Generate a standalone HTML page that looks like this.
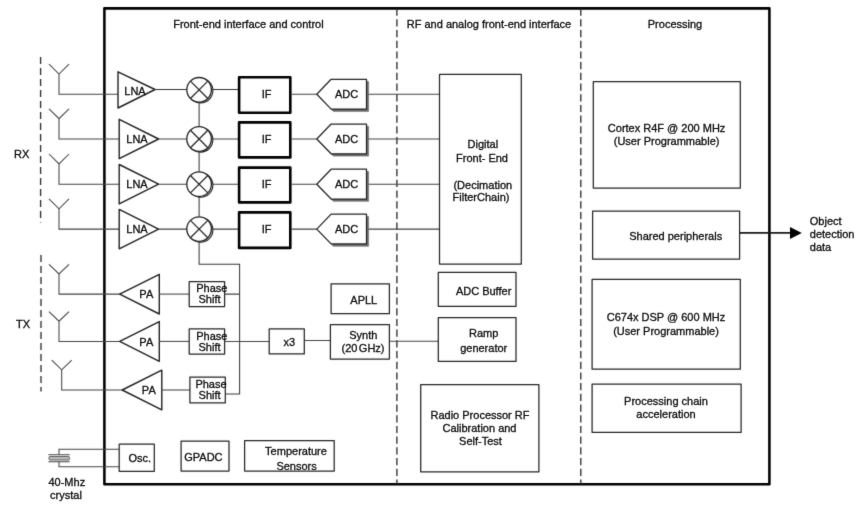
<!DOCTYPE html>
<html lang="en">
<head>
<meta charset="utf-8">
<title>Radar block diagram</title>
<style>
html,body{margin:0;padding:0;background:#fff;}
body{width:867px;height:506px;overflow:hidden;}
svg{display:block;}
text{font-family:"Liberation Sans",Arial,Helvetica,sans-serif;font-size:11px;fill:#111;stroke:#111;stroke-width:0.32px;}
.m{text-anchor:middle;}
.l{stroke:#444;stroke-width:1.05;fill:none;}
.b{stroke:#262626;stroke-width:1.25;fill:#fff;stroke-linejoin:round;}
.t{stroke-width:1.4;stroke:#222;}
.k{stroke:#000;stroke-width:2.6;fill:#fff;stroke-linejoin:round;}
.d{stroke:#303030;stroke-width:1.35;fill:none;stroke-dasharray:7.2 3.5;}
</style>
</head>
<body>
<svg width="867" height="506" viewBox="0 0 867 506">
<defs>
<filter id="soft" x="0" y="0" width="867" height="506" filterUnits="userSpaceOnUse" color-interpolation-filters="sRGB">
<feConvolveMatrix order="3" kernelMatrix="0.011 0.085 0.011 0.085 0.616 0.085 0.011 0.085 0.011" divisor="1" edgeMode="duplicate" preserveAlpha="false"/>
</filter>
<filter id="softt" x="0" y="0" width="867" height="506" filterUnits="userSpaceOnUse" color-interpolation-filters="sRGB">
<feConvolveMatrix order="3" kernelMatrix="0.006 0.07 0.006 0.07 0.696 0.07 0.006 0.07 0.006" divisor="1" edgeMode="duplicate" preserveAlpha="false"/>
</filter>
</defs>
<rect x="0" y="0" width="867" height="506" fill="#fff"/>

<g filter="url(#soft)">
<rect x="104.4" y="8.35" width="665" height="475.9" fill="none" stroke="#000" stroke-width="2.55" stroke-linejoin="round"/>
<line class="d" x1="396.9" y1="8.6" x2="396.9" y2="484"/>
<line class="d" x1="580.8" y1="8.6" x2="580.8" y2="484"/>
<line class="d" style="stroke-dasharray:7 4" x1="40.6" y1="57" x2="40.6" y2="222.5"/>
<line class="d" style="stroke-dasharray:7 4" x1="41" y1="255" x2="41" y2="391.5"/>
<path class="l" d="M49 64.1L59 74.0L69 64.1M59 74.0V94.3H119"/>
<path class="b t" d="M118 71.8L155 89.5L118 108Z"/>
<path class="l" style="stroke:#333;stroke-width:1.15" d="M155 89.5H187M212 89.5H239"/>
<circle cx="200.6" cy="90.6" r="12.3" fill="#fff" stroke="#222" stroke-width="1.1"/>
<circle cx="199.1" cy="89.8" r="12.3" fill="#fff" stroke="#222" stroke-width="1.3"/>
<path d="M190.40 81.10L207.80 98.50M207.80 81.10L190.40 98.50" fill="none" stroke="#262626" stroke-width="1.25"/>
<path class="l" d="M49 108.8L59 118.7L69 108.8M59 118.7V139.0H119"/>
<path class="b t" d="M119.2 119.3L158.6 139.0L119.2 158.7Z"/>
<path class="l" d="M158.6 139.0H187M212 139.0H239"/>
<circle cx="200.6" cy="139.8" r="12.3" fill="#fff" stroke="#222" stroke-width="1.1"/>
<circle cx="199.1" cy="139.0" r="12.3" fill="#fff" stroke="#222" stroke-width="1.3"/>
<path d="M190.40 130.30L207.80 147.70M207.80 130.30L190.40 147.70" fill="none" stroke="#262626" stroke-width="1.25"/>
<path class="l" d="M49 154.0L59 163.89999999999998L69 154.0M59 163.89999999999998V184.2H119"/>
<path class="b t" d="M119.2 164.5L158.6 184.2L119.2 203.89999999999998Z"/>
<path class="l" d="M158.6 184.2H187M212 184.2H239"/>
<circle cx="200.6" cy="185.0" r="12.3" fill="#fff" stroke="#222" stroke-width="1.1"/>
<circle cx="199.1" cy="184.2" r="12.3" fill="#fff" stroke="#222" stroke-width="1.3"/>
<path d="M190.40 175.50L207.80 192.90M207.80 175.50L190.40 192.90" fill="none" stroke="#262626" stroke-width="1.25"/>
<path class="l" d="M49 198.9L59 208.79999999999998L69 198.9M59 208.79999999999998V229.1H119"/>
<path class="b t" d="M119.2 209.4L158.6 229.1L119.2 248.79999999999998Z"/>
<path class="l" d="M158.6 229.1H187M212 229.1H239"/>
<circle cx="200.6" cy="229.9" r="12.3" fill="#fff" stroke="#222" stroke-width="1.1"/>
<circle cx="199.1" cy="229.1" r="12.3" fill="#fff" stroke="#222" stroke-width="1.3"/>
<path d="M190.40 220.40L207.80 237.80M207.80 220.40L190.40 237.80" fill="none" stroke="#262626" stroke-width="1.25"/>
<rect class="k" x="239.1" y="77.3" width="51.2" height="35.5"/>
<path class="l" d="M291.5 94.3H317M367 94.3H439.5"/>
<path d="M319 96.6L333.3 81.6H368.6V111.39999999999999H333.3Z" fill="#6e6e6e" stroke="#6e6e6e" stroke-width="0.6"/>
<path class="b" d="M316.8 94.3L331.1 79.3H366.5V109.1H331.1Z"/>
<rect class="k" x="239.1" y="122.4" width="51.2" height="35.0"/>
<path class="l" d="M291.5 139.0H317M367 139.0H439.5"/>
<path d="M319 141.3L333.3 126.3H368.6V156.10000000000002H333.3Z" fill="#6e6e6e" stroke="#6e6e6e" stroke-width="0.6"/>
<path class="b" d="M316.8 139.0L331.1 124.0H366.5V153.8H331.1Z"/>
<rect class="k" x="239.1" y="167.6" width="51.2" height="34.8"/>
<path class="l" d="M291.5 184.2H317M367 184.2H439.5"/>
<path d="M319 186.5L333.3 171.5H368.6V201.3H333.3Z" fill="#6e6e6e" stroke="#6e6e6e" stroke-width="0.6"/>
<path class="b" d="M316.8 184.2L331.1 169.2H366.5V199.0H331.1Z"/>
<rect class="k" x="239.1" y="212.4" width="51.2" height="35.5"/>
<path class="l" d="M291.5 229.1H317M367 229.1H439.5"/>
<path d="M319 231.4L333.3 216.4H368.6V246.20000000000002H333.3Z" fill="#6e6e6e" stroke="#6e6e6e" stroke-width="0.6"/>
<path class="b" d="M316.8 229.1L331.1 214.1H366.5V243.9H331.1Z"/>
<path class="l" style="stroke:#383838" d="M199.1 102.5V126.5M199.1 151.5V171.7M199.1 196.7V216.6M199.1 241.6V264.3H239.6V394H225.5"/>
<path class="l" d="M49 264.3L59 273.90000000000003L69 264.3M59 273.90000000000003V294.1H120.7"/>
<path class="b t" d="M119.7 294.1L159.3 274.3V314.0Z"/>
<path class="l" d="M159.3 294.1H189.2"/>
<rect class="b" x="189.2" y="281.5" width="35.4" height="25.1"/>
<path class="l" d="M49 311.59999999999997L59 321.2L69 311.59999999999997M59 321.2V341.4H120.7"/>
<path class="b t" d="M119.7 341.4L159.3 321.59999999999997V361.29999999999995Z"/>
<path class="l" d="M159.3 341.4H189.2"/>
<rect class="b" x="189.2" y="328.9" width="35.4" height="25.1"/>
<path class="l" d="M51.7 360.2L61.7 369.8L71.7 360.2M61.7 369.8V390.0H123.2"/>
<path class="b t" d="M122.2 390.0L161.8 370.2V409.9Z"/>
<path class="l" d="M161.8 390.0H189.9"/>
<rect class="b" x="189.9" y="377.2" width="35.4" height="25.6"/>
<path class="l" d="M224.5 294.1H239.6M224.5 341.4H269.2M304.3 340.5H330.4M389.4 341.3H438.3"/>
<rect class="b" x="269.2" y="328.8" width="35.1" height="25.1"/>
<rect class="b" x="331.1" y="283.9" width="58.3" height="29.8"/>
<rect class="b" x="330.4" y="324.5" width="59" height="34.6"/>
<path class="l" d="M119 449.2H59V454.8M119 466.8H59V461.7M48.4 454.8H69.7M48.4 461.7H69.7"/>
<rect x="48.9" y="456.5" width="20.6" height="3.5" rx="1.2" fill="#bbb" stroke="#444" stroke-width="0.8"/>
<rect class="b" x="119.2" y="444.2" width="35.1" height="27.1"/>
<rect class="b" x="181.1" y="441" width="47.9" height="30.1"/>
<rect class="b" x="244.6" y="440.5" width="89.6" height="30.6"/>
<rect class="b" x="439.5" y="74.3" width="81.8" height="189.7"/>
<rect class="b" x="438.3" y="272.3" width="77.7" height="34"/>
<rect class="b" x="438.3" y="317.5" width="77.7" height="43.9"/>
<rect class="b" x="420.7" y="384.5" width="118.2" height="87.3"/>
<rect class="b" x="593.3" y="81.5" width="147" height="106.6"/>
<rect class="b" x="592.6" y="211" width="147" height="48"/>
<rect class="b" x="592.1" y="279.3" width="148.2" height="89.9"/>
<rect class="b" x="592.1" y="384" width="149" height="48.4"/>
<path d="M739.6 232.9H792" stroke="#1a1a1a" stroke-width="1.7" fill="none"/>
<path d="M790 226.9L801.8 232.9L790 239Z" fill="#000"/>
</g>
<g filter="url(#softt)">
<text class="m" x="248.4" y="28.3">Front-end interface and control</text>
<text class="m" x="489" y="28.3">RF and analog front-end interface</text>
<text class="m" x="675" y="28.3">Processing</text>
<text class="m" x="21.6" y="157.8">RX</text>
<text class="m" x="23" y="327.7">TX</text>
<text class="m" x="135" y="94.5">LNA</text>
<text class="m" x="137" y="143.0">LNA</text>
<text class="m" x="137" y="188.2">LNA</text>
<text class="m" x="137" y="233.1">LNA</text>
<text class="m" x="266.7" y="98.2">IF</text>
<text class="m" x="346.5" y="98.3">ADC</text>
<text class="m" x="266.7" y="143.1">IF</text>
<text class="m" x="346.5" y="143.0">ADC</text>
<text class="m" x="266.7" y="188.2">IF</text>
<text class="m" x="346.5" y="188.2">ADC</text>
<text class="m" x="266.7" y="233.3">IF</text>
<text class="m" x="346.5" y="233.1">ADC</text>
<text class="m" x="146.3" y="298.3">PA</text>
<text class="m" x="211.8" y="292.3">Phase</text>
<text class="m" x="209.5" y="303.3">Shift</text>
<text class="m" x="146.3" y="345.59999999999997">PA</text>
<text class="m" x="211.8" y="339.7">Phase</text>
<text class="m" x="209.5" y="350.7">Shift</text>
<text class="m" x="148.8" y="394.2">PA</text>
<text class="m" x="211.0" y="388.0">Phase</text>
<text class="m" x="209.6" y="399.0">Shift</text>
<text class="m" x="289.3" y="346">x3</text>
<text class="m" x="363.8" y="304.2">APLL</text>
<text class="m" x="363.3" y="339.3">Synth</text>
<text class="m" x="363" y="352.3" word-spacing="-1.6">(20 GHz)</text>
<text class="m" x="139.7" y="462.4">Osc.</text>
<text class="m" x="203.4" y="460.5">GPADC</text>
<text class="m" x="296" y="455.3">Temperature</text>
<text class="m" x="296.6" y="469.6">Sensors</text>
<text class="m" x="66.8" y="485.9">40-Mhz</text>
<text class="m" x="66" y="499.2">crystal</text>
<text class="m" x="482.9" y="147.5">Digital</text>
<text class="m" x="482" y="162.4">Front- End</text>
<text class="m" x="482.8" y="189.2">(Decimation</text>
<text class="m" x="481" y="200.9">FilterChain)</text>
<text class="m" x="483.6" y="295.1">ADC Buffer</text>
<text class="m" x="483.7" y="337.3">Ramp</text>
<text class="m" x="483.7" y="352.3">generator</text>
<text class="m" x="480" y="418.9">Radio Processor RF</text>
<text class="m" x="479.5" y="431.9">Calibration and</text>
<text class="m" x="480.5" y="445.2">Self-Test</text>
<text class="m" x="666.6" y="131.5">Cortex R4F @ 200 MHz</text>
<text class="m" x="666.6" y="145">(User Programmable)</text>
<text class="m" x="675.7" y="240.1">Shared peripherals</text>
<text class="m" x="666" y="320.8">C674x DSP @ 600 MHz</text>
<text class="m" x="666" y="335.3">(User Programmable)</text>
<text class="m" x="666" y="405.1">Processing chain</text>
<text class="m" x="666" y="418.1">acceleration</text>
<text x="809.8" y="224.9">Object</text>
<text x="809.8" y="238.4">detection</text>
<text x="809.8" y="251.3">data</text>
</g>
</svg>
</body>
</html>
